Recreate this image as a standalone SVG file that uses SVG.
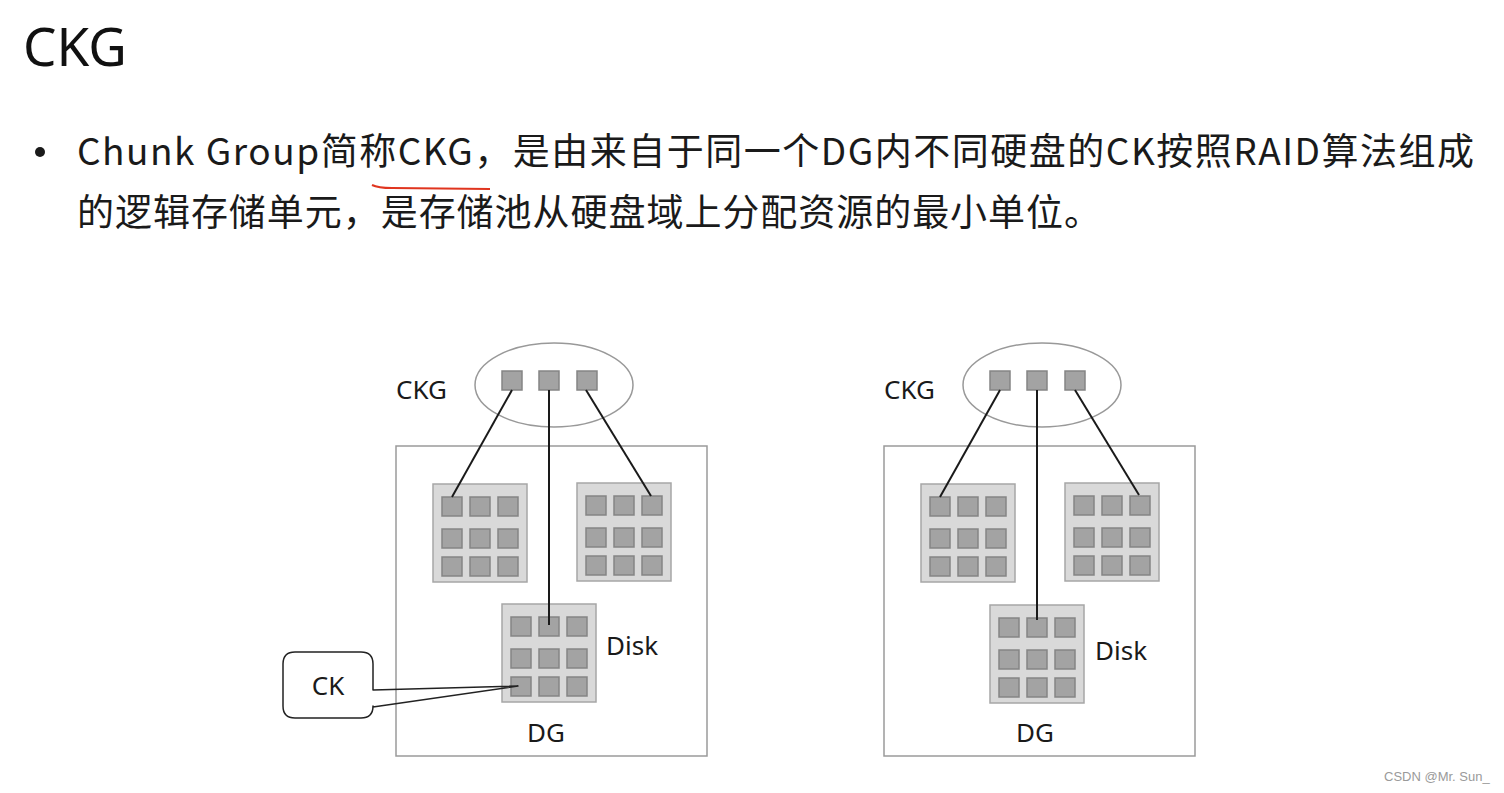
<svg xmlns="http://www.w3.org/2000/svg" xmlns:xlink="http://www.w3.org/1999/xlink" width="1504" height="793" viewBox="0 0 1504 793">
<style>
.title{font-family:"Noto Sans","Open Sans",sans-serif;font-size:53px;fill:#111}
.body{font-family:"Noto Sans CJK SC","Noto Sans",sans-serif;font-size:37px;fill:#1a1a1a}
.lbl{font-family:"Noto Sans","Open Sans",sans-serif;font-size:26px;fill:#1a1a1a}
.ck{fill:#a3a3a3;stroke:#858585;stroke-width:1.5}
.disk{fill:#d9d9d9;stroke:#a6a6a6;stroke-width:1.5}
.dg{fill:none;stroke:#9a9a9a;stroke-width:1.5}
.ell{fill:none;stroke:#999;stroke-width:1.5}
.conn line{stroke:#1a1a1a;stroke-width:2}
.callout{fill:none;stroke:#222;stroke-width:1.5;stroke-linejoin:round}
.wm{font-family:"Liberation Sans",Arial,sans-serif;font-size:13px;fill:#9a9a9a}
</style>
<defs>
<g id="diskShape">
<rect class="disk" x="0" y="0" width="94" height="98"/>
<rect class="ck" x="9" y="13" width="20" height="19"/>
<rect class="ck" x="37" y="13" width="20" height="19"/>
<rect class="ck" x="65" y="13" width="20" height="19"/>
<rect class="ck" x="9" y="45" width="20" height="19"/>
<rect class="ck" x="37" y="45" width="20" height="19"/>
<rect class="ck" x="65" y="45" width="20" height="19"/>
<rect class="ck" x="9" y="73" width="20" height="19"/>
<rect class="ck" x="37" y="73" width="20" height="19"/>
<rect class="ck" x="65" y="73" width="20" height="19"/>
</g>
<g id="ckgShape">
<ellipse class="ell" cx="0" cy="0" rx="79" ry="42"/>
<rect class="ck" x="-52" y="-14" width="20" height="19"/>
<rect class="ck" x="-15" y="-14" width="20" height="19"/>
<rect class="ck" x="23" y="-14" width="20" height="19"/>
</g>
</defs>
<rect width="1504" height="793" fill="#fff"/>

<g id="header">
<text class="title" x="23" y="66">CKG</text>
<circle cx="40" cy="152" r="5" fill="#1a1a1a"/>
<text class="body" x="77" y="165" textLength="1397" lengthAdjust="spacing">Chunk  Group简称CKG，是由来自于同一个DG内不同硬盘的CK按照RAID算法组成</text>
<text class="body" x="77" y="226" textLength="1024" lengthAdjust="spacing">的逻辑存储单元，是存储池从硬盘域上分配资源的最小单位。</text>
<path d="M372,185 Q378,188 392,188 L490,189" fill="none" stroke="#e0351f" stroke-width="2"/>
</g>

<!-- Left diagram -->
<g id="dg-left">
<rect class="dg" x="396" y="446" width="311" height="310"/>
<text class="lbl" x="546" y="742" text-anchor="middle">DG</text>
</g>
<g id="ckg-left">
<use xlink:href="#ckgShape" href="#ckgShape" x="554" y="385"/>
<text class="lbl" x="396" y="399">CKG</text>
</g>
<g id="disk-left-1"><use xlink:href="#diskShape" href="#diskShape" x="433" y="484"/></g>
<g id="disk-left-2"><use xlink:href="#diskShape" href="#diskShape" x="577" y="483"/></g>
<g id="disk-left-3">
<use xlink:href="#diskShape" href="#diskShape" x="502" y="604"/>
<text class="lbl" x="606" y="655">Disk</text>
</g>
<g id="ck-callout">
<path class="callout" d="M295,652 H361 Q373,652 373,664 V690 L518,686 L373,707 V706 Q373,718 361,718 H295 Q283,718 283,706 V664 Q283,652 295,652 Z"/>
<text class="lbl" x="328" y="695" text-anchor="middle">CK</text>
</g>

<!-- Right diagram -->
<g id="dg-right">
<rect class="dg" x="884" y="446" width="311" height="310"/>
<text class="lbl" x="1035" y="742" text-anchor="middle">DG</text>
</g>
<g id="ckg-right">
<use xlink:href="#ckgShape" href="#ckgShape" x="1042" y="385"/>
<text class="lbl" x="884" y="399">CKG</text>
</g>
<g id="disk-right-1"><use xlink:href="#diskShape" href="#diskShape" x="921" y="484"/></g>
<g id="disk-right-2"><use xlink:href="#diskShape" href="#diskShape" x="1065" y="483"/></g>
<g id="disk-right-3">
<use xlink:href="#diskShape" href="#diskShape" x="990" y="605"/>
<text class="lbl" x="1095" y="660">Disk</text>
</g>

<g id="connectors" class="conn">
<line x1="512" y1="390" x2="452" y2="497"/>
<line x1="549" y1="390" x2="549" y2="625"/>
<line x1="586" y1="390" x2="651" y2="496"/>
<line x1="1000" y1="390" x2="940" y2="497"/>
<line x1="1037" y1="390" x2="1037" y2="620"/>
<line x1="1075" y1="390" x2="1139" y2="495"/>
</g>

<text class="wm" x="1384" y="781">CSDN @Mr. Sun_</text>
</svg>
